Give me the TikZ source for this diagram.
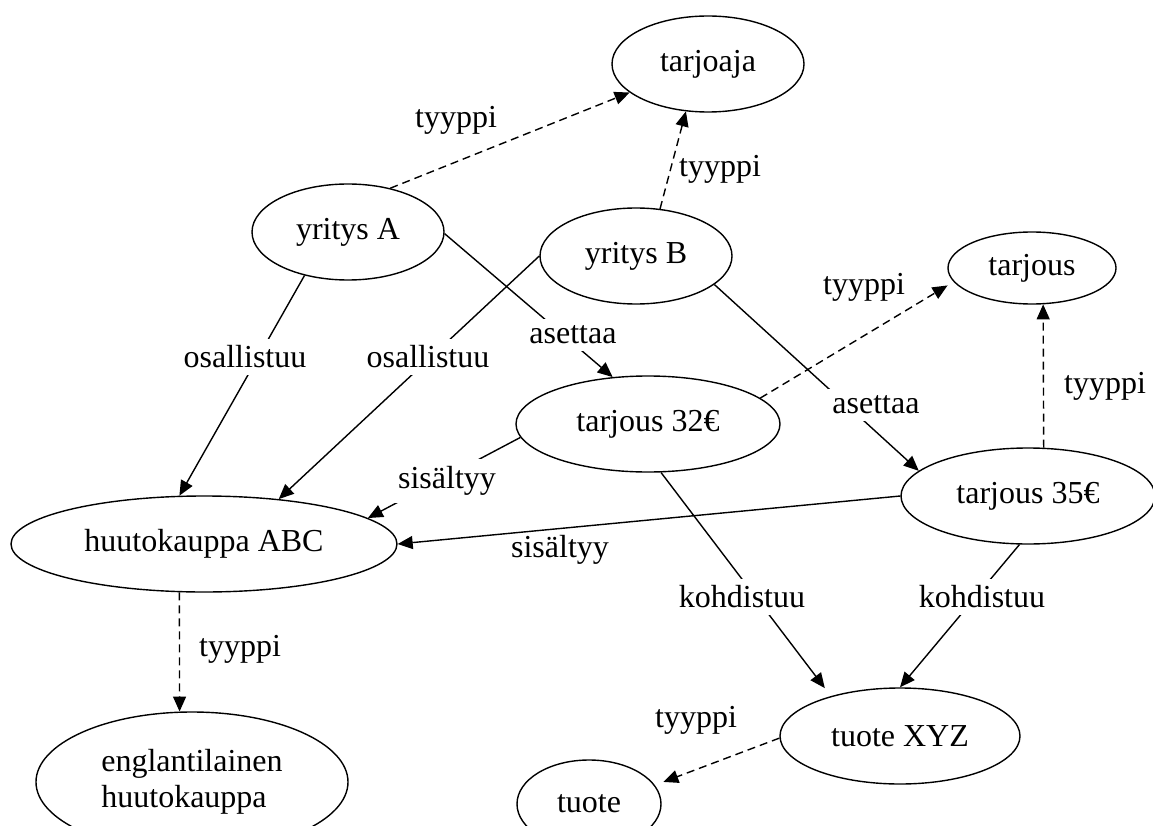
\documentclass[tikz,border=0pt]{standalone}
\usepackage{fontspec}
\setmainfont{Liberation Serif}
\usetikzlibrary{arrows.meta,shapes.geometric}

\begin{document}
\begin{tikzpicture}[x=1pt,y=-1pt,
  every node/.style={font=\fontsize{32}{36}\selectfont},
  concept/.style={ellipse,draw,line width=1.4pt,inner sep=0pt},
  gaplabel/.style={fill=white,inner xsep=4pt,inner ysep=7pt},
  sidelabel/.style={inner sep=2pt},
  link/.style={line width=1.4pt},
  arrowlink/.style={link,-{Triangle[length=15pt,width=13pt]}},
  typelink/.style={arrowlink,dash pattern=on 8pt off 5pt},
]
\useasboundingbox (0,0) rectangle (1153,826);
\clip (0,0) rectangle (1153,826);

% concepts
\node[concept,minimum width=192pt,minimum height=96pt] (tarjoaja) at (708,64) {tarjoaja};
\node[concept,minimum width=192pt,minimum height=96pt] (yA) at (348,232) {yritys A};
\node[concept,minimum width=192pt,minimum height=96pt] (yB) at (636,256) {yritys B};
\node[concept,minimum width=168pt,minimum height=72pt] (tarjous) at (1032,268) {tarjous};
\node[concept,minimum width=264pt,minimum height=96pt] (t32) at (648,424) {tarjous 32€};
\node[concept,minimum width=254pt,minimum height=96pt] (t35) at (1028,496) {tarjous 35€};
\node[concept,minimum width=386pt,minimum height=96pt] (hABC) at (204,544) {huutokauppa ABC};
\node[concept,minimum width=312pt,minimum height=140pt,align=left] (eng) at (192,782) {englantilainen\\huutokauppa};
\node[concept,minimum width=240pt,minimum height=96pt] (xyz) at (900,736) {tuote XYZ};
\node[concept,minimum width=144pt,minimum height=88pt] (tuote) at (589,804) {tuote};

% "tyyppi" relations
\draw[typelink] (yA.46) -- (tarjoaja.200);
\draw[typelink] (yB.63) -- (tarjoaja.245);
\draw[typelink,shorten >=7pt] (t32.13) -- (tarjous.190);
\draw[typelink] (t35.72) -- (tarjous.-73);
\draw[typelink] (hABC.243) -- (eng.100);
\draw[typelink,shorten >=9pt] (xyz.181) -- (tuote.16);

% other relations
\draw[arrowlink] (yA.225) -- (hABC.117);
\draw[arrowlink] (yB.180) -- (hABC.31);
\draw[arrowlink] (yA.-1) -- (t32.127);
\draw[arrowlink] (yB.-20) -- (t35.167);
\draw[arrowlink] (t32.186) -- (hABC.9);
\draw[arrowlink] (t35.180) -- (hABC.0);
\draw[arrowlink,shorten >=10pt] (t32.285) -- (xyz.150);
\draw[arrowlink] (t35.260) -- (xyz.90);

% labels that interrupt their lines
\node[gaplabel] (osA) at (245,357) {osallistuu};
\node[gaplabel] (osB) at (428,357) {osallistuu};
\node[gaplabel] (asA) at (573,335) {asettaa};
\node[gaplabel] (asB) at (876,405) {asettaa};
\node[gaplabel] (siA) at (447,481) {sisältyy};
\node[gaplabel] (koA) at (742,597) {kohdistuu};
\node[gaplabel] (koB) at (982,597) {kohdistuu};

% labels beside their lines
\node[sidelabel] (tyA) at (456,120) {tyyppi};
\node[sidelabel] (tyB) at (720,169) {tyyppi};
\node[sidelabel] (ty32) at (864,287) {tyyppi};
\node[sidelabel] (ty35) at (1105,386) {tyyppi};
\node[sidelabel] (tyH) at (240,649) {tyyppi};
\node[sidelabel] (tyX) at (696,720) {tyyppi};
\node[sidelabel] (siB) at (560,550) {sisältyy};
\end{tikzpicture}
\end{document}
